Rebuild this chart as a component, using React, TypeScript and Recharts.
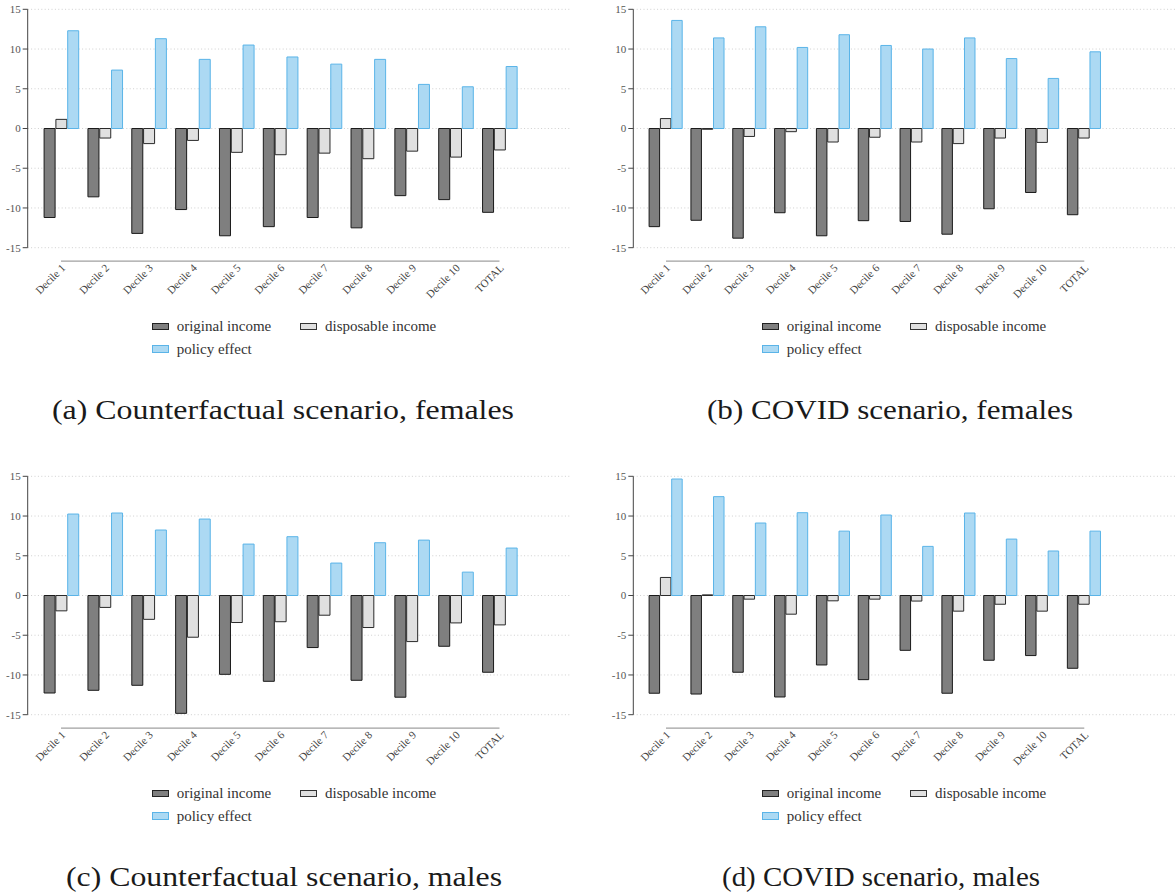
import React from "react";
import {
  BarChart,
  Bar,
  XAxis,
  YAxis,
  CartesianGrid,
  ReferenceLine,
} from "recharts";

const CATEGORIES = [
  "Decile 1",
  "Decile 2",
  "Decile 3",
  "Decile 4",
  "Decile 5",
  "Decile 6",
  "Decile 7",
  "Decile 8",
  "Decile 9",
  "Decile 10",
  "TOTAL",
];
const Y_TICKS = [-15, -10, -5, 0, 5, 10, 15];

// (a) Counterfactual scenario, females
const A_ORIGINAL = [-11.2, -8.6, -13.2, -10.2, -13.5, -12.35, -11.2, -12.5, -8.45, -8.95, -10.55];
const A_DISPOSABLE = [1.15, -1.2, -1.9, -1.5, -3.0, -3.3, -3.1, -3.8, -2.85, -3.6, -2.7];
const A_POLICY = [12.3, 7.35, 11.3, 8.7, 10.5, 9.0, 8.1, 8.7, 5.55, 5.25, 7.8];

// (b) COVID scenario, females
const B_ORIGINAL = [-12.35, -11.55, -13.8, -10.6, -13.5, -11.6, -11.7, -13.3, -10.1, -8.05, -10.85];
const B_DISPOSABLE = [1.25, -0.1, -1.0, -0.4, -1.7, -1.1, -1.7, -1.9, -1.2, -1.75, -1.2];
const B_POLICY = [13.6, 11.4, 12.8, 10.2, 11.8, 10.45, 10.0, 11.4, 8.8, 6.3, 9.65];

// (c) Counterfactual scenario, males
const C_ORIGINAL = [-12.27, -11.93, -11.3, -14.83, -9.92, -10.8, -6.55, -10.67, -12.8, -6.39, -9.66];
const C_DISPOSABLE = [-1.93, -1.5, -3.0, -5.25, -3.4, -3.3, -2.48, -4.03, -5.8, -3.45, -3.7];
const C_POLICY = [10.25, 10.38, 8.24, 9.62, 6.47, 7.4, 4.08, 6.64, 6.97, 2.94, 5.97];

// (d) COVID scenario, males
const D_ORIGINAL = [-12.3, -12.4, -9.66, -12.77, -8.74, -10.59, -6.9, -12.3, -8.15, -7.56, -9.16];
const D_DISPOSABLE = [2.27, 0.08, -0.46, -2.35, -0.67, -0.46, -0.7, -1.97, -1.1, -1.97, -1.1];
const D_POLICY = [14.66, 12.44, 9.12, 10.42, 8.1, 10.13, 6.18, 10.38, 7.1, 5.6, 8.1];

const FONT = "Liberation Serif";
const DARK = "#7f7f7f";
const LIGHT = "#e0e0e0";
const BLUE = "#acd9f3";
const BLUE_EDGE = "#5ab4e8";
const AXIS_LINE_Y = -16.7;

function rows(orig: number[], disp: number[], pol: number[]) {
  return CATEGORIES.map((name, i) => ({
    name,
    original: orig[i],
    disposable: disp[i],
    policy: pol[i],
  }));
}

const XTick = (props: any) => {
  const { x, y, payload } = props;
  return (
    <g transform={`translate(${x + 5},${y + 21})`}>
      <text
        x={0}
        y={0}
        textAnchor="end"
        transform="rotate(-45)"
        fill="#444"
        fontSize={11}
        fontFamily={FONT}
      >
        {payload.value}
      </text>
    </g>
  );
};

interface PanelProps {
  left: number;
  top: number;
  yAxisWidth: number;
  rightMargin: number;
  padLeft: number;
  padRight: number;
  barSize: number;
  data: any[];
}

function Panel({ left, top, yAxisWidth, rightMargin, padLeft, padRight, barSize, data }: PanelProps) {
  return (
    <div style={{ position: "absolute", left, top }}>
      <BarChart
        width={588}
        height={300}
        data={data}
        margin={{ top: 9.3, right: rightMargin, left: 0, bottom: 0 }}
        barSize={barSize}
        barGap={0.8}
      >
        <CartesianGrid
          vertical={false}
          stroke="#cfcfcf"
          strokeDasharray="1 2.4"
        />
        <XAxis
          dataKey="name"
          height={52.3}
          padding={{ left: padLeft, right: padRight }}
          axisLine={false}
          tickLine={false}
          tickSize={0}
          tickMargin={0}
          interval={0}
          tick={XTick}
        />
        <YAxis
          width={yAxisWidth}
          domain={[-15, 15]}
          ticks={Y_TICKS}
          allowDataOverflow
          tickSize={5}
          tickMargin={2}
          axisLine={{ stroke: "#444" }}
          tickLine={{ stroke: "#444" }}
          tick={{ fill: "#555", fontSize: 11, fontFamily: FONT }}
        />
        <ReferenceLine
          segment={[
            { x: CATEGORIES[0], y: AXIS_LINE_Y },
            { x: CATEGORIES[CATEGORIES.length - 1], y: AXIS_LINE_Y },
          ]}
          stroke="#a0a0a0"
          strokeWidth={1.2}
          ifOverflow="visible"
        />
        <Bar dataKey="original" fill={DARK} stroke="#1a1a1a" strokeWidth={1} isAnimationActive={false} />
        <Bar dataKey="disposable" fill={LIGHT} stroke="#2a2a2a" strokeWidth={1} isAnimationActive={false} />
        <Bar dataKey="policy" fill={BLUE} stroke={BLUE_EDGE} strokeWidth={1} isAnimationActive={false} />
      </BarChart>
    </div>
  );
}

function Swatch({ x, y, fill, edge }: { x: number; y: number; fill: string; edge: string }) {
  return (
    <div
      style={{
        position: "absolute",
        left: x,
        top: y - 3.5,
        width: 15,
        height: 5.5,
        background: fill,
        border: `1px solid ${edge}`,
      }}
    />
  );
}

function Label({ x, y, text }: { x: number; y: number; text: string }) {
  return (
    <div
      style={{
        position: "absolute",
        left: x,
        top: y - 10,
        fontFamily: FONT,
        fontSize: 15,
        lineHeight: "20px",
        color: "#333",
        whiteSpace: "nowrap",
      }}
    >
      {text}
    </div>
  );
}

function LegendBlock({ left, top }: { left: number; top: number }) {
  return (
    <>
      <Swatch x={left} y={top} fill={DARK} edge="#222" />
      <Label x={left + 25} y={top} text="original income" />
      <Swatch x={left + 148.3} y={top} fill={LIGHT} edge="#333" />
      <Label x={left + 173.3} y={top} text="disposable income" />
      <Swatch x={left} y={top + 22.5} fill={BLUE} edge={BLUE_EDGE} />
      <Label x={left + 25} y={top + 22.5} text="policy effect" />
    </>
  );
}

function Caption({ cx, baseline, text, width }: { cx: number; baseline: number; text: string; width: number }) {
  return (
    <svg
      style={{ position: "absolute", left: cx - width / 2 - 10, top: baseline - 30 }}
      width={width + 20}
      height={40}
    >
      <text
        x={10}
        y={30}
        fontFamily={FONT}
        fontSize={28}
        fill="#1a1a1a"
        textLength={width}
        lengthAdjust="spacingAndGlyphs"
      >
        {text}
      </text>
    </svg>
  );
}

export default function App() {
  const dy = 467.3;
  return (
    <div
      style={{
        position: "absolute",
        left: 0,
        top: 0,
        width: 1176,
        height: 896,
        background: "#fff",
        overflow: "hidden",
      }}
    >
      <Panel left={0} top={0} yAxisWidth={27.7} rightMargin={17} padLeft={11.4} padRight={49.6} barSize={11} data={rows(A_ORIGINAL, A_DISPOSABLE, A_POLICY)} />
      <Panel left={588} top={0} yAxisWidth={45.3} rightMargin={0} padLeft={11.8} padRight={70.8} barSize={10.5} data={rows(B_ORIGINAL, B_DISPOSABLE, B_POLICY)} />
      <Panel left={0} top={dy} yAxisWidth={27.7} rightMargin={17} padLeft={11.4} padRight={49.6} barSize={11} data={rows(C_ORIGINAL, C_DISPOSABLE, C_POLICY)} />
      <Panel left={588} top={dy} yAxisWidth={45.3} rightMargin={0} padLeft={11.8} padRight={70.8} barSize={10.5} data={rows(D_ORIGINAL, D_DISPOSABLE, D_POLICY)} />

      <LegendBlock left={151.7} top={326} />
      <LegendBlock left={761.7} top={326} />
      <LegendBlock left={151.7} top={326 + dy} />
      <LegendBlock left={761.7} top={326 + dy} />

      <Caption cx={283} baseline={419} width={462} text="(a) Counterfactual scenario, females" />
      <Caption cx={890} baseline={419} width={366} text="(b) COVID scenario, females" />
      <Caption cx={284} baseline={886} width={436} text="(c) Counterfactual scenario, males" />
      <Caption cx={881} baseline={886} width={318} text="(d) COVID scenario, males" />
    </div>
  );
}
